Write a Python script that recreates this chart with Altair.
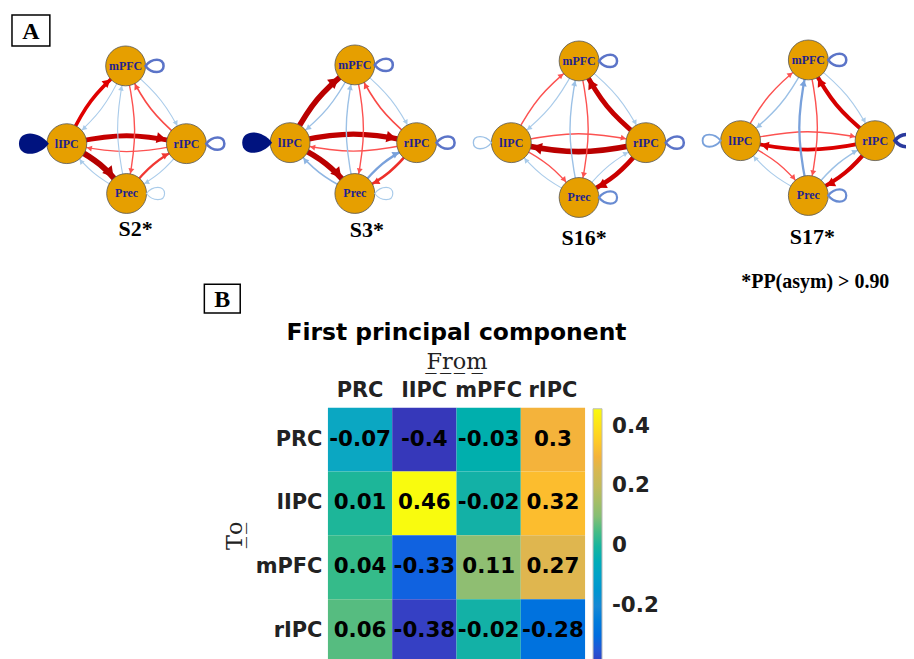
import math
import altair as alt
import pandas as pd

# ---------------- Panel A: effective connectivity graphs ----------------
subjects = ["S2*", "S3*", "S16*", "S17*"]
nodes = ["mPFC", "lIPC", "rIPC", "Prec"]

# directed connections (from -> to); value > 0 excitatory (red), < 0 inhibitory (blue)
edge_from = ["lIPC", "mPFC", "lIPC", "rIPC", "lIPC", "Prec", "mPFC", "Prec", "rIPC", "mPFC", "rIPC", "Prec"]
edge_to = ["mPFC", "lIPC", "rIPC", "lIPC", "Prec", "lIPC", "Prec", "mPFC", "mPFC", "rIPC", "Prec", "rIPC"]
s2_edges = [0.5, -0.1, 0.75, 0.15, 0.9, -0.1, 0.15, -0.1, 0.2, -0.1, -0.1, 0.3]
s3_edges = [0.85, -0.15, 0.8, 0.15, 0.85, -0.2, 0.15, -0.15, 0.2, -0.1, 0.35, -0.3]
s16_edges = [0.15, -0.1, 0.15, 0.85, 0.15, -0.1, 0.15, -0.15, 0.75, -0.1, 0.7, -0.1]
s17_edges = [0.15, -0.15, 0.15, 0.55, 0.15, -0.1, 0.15, -0.3, 0.6, -0.1, 0.6, -0.15]
edge_values = [s2_edges, s3_edges, s16_edges, s17_edges]

# self connections (mPFC, lIPC, rIPC, Prec)
s2_self = [-0.5, -1.0, -0.5, -0.1]
s3_self = [-0.5, -1.0, -0.5, -0.1]
s16_self = [-0.5, -0.15, -0.5, -0.4]
s17_self = [-0.5, -0.3, -0.8, -0.4]
self_values = [s2_self, s3_self, s16_self, s17_self]

note_text = ["*PP(asym) > 0.90"]
panel_letters = ["A", "B"]

# ---------------- layout (page pixel coordinates) ----------------
node_x = [[123, 64, 184, 124], [353, 288, 415, 353], [578, 510, 645, 578], [808, 740, 875, 808]]
node_y = [[65, 143, 143, 193], [64, 142, 142, 193], [60, 142, 142, 197], [59, 140, 140, 195]]
loop_angle = [0, 180, 0, 0]
subject_label_x = [133, 365, 583, 812]
subject_label_y = [229, 230, 238, 237]
note_x = [815]
note_y = [282]
box_x1 = [9, 202]
box_x2 = [47, 238]
box_y1 = [14, 284]
box_y2 = [45, 313]
NODE_R = 20
CURVE = 0.1

# ---------------- Panel B: heat map ----------------
cols_from = ["PRC", "lIPC", "mPFC", "rIPC"]
rows_to = ["PRC", "lIPC", "mPFC", "rIPC"]
pc1_PRC = [-0.07, -0.4, -0.03, 0.3]
pc1_lIPC = [0.01, 0.46, -0.02, 0.32]
pc1_mPFC = [0.04, -0.33, 0.11, 0.27]
pc1_rIPC = [0.06, -0.38, -0.02, -0.28]
pc1_rows = [pc1_PRC, pc1_lIPC, pc1_mPFC, pc1_rIPC]
colorbar_ticks = [-0.2, 0, 0.2, 0.4]

# ---------------- build tables ----------------
node_rows, line_rows, arrow_rows, loop_rows = [], [], [], []
for si, s in enumerate(subjects):
    pos = {}
    for ni, n in enumerate(nodes):
        pos[n] = (node_x[si][ni], node_y[si][ni])
        node_rows.append(dict(subject=s, node=n, x=node_x[si][ni], y=node_y[si][ni]))
        v = self_values[si][ni]
        big = abs(v) >= 0.9
        off = NODE_R + (13 if big else 9)
        ang = loop_angle[ni]
        loop_rows.append(dict(
            x=node_x[si][ni] + off * math.cos(math.radians(ang)),
            y=node_y[si][ni] + off * math.sin(math.radians(ang)),
            v=v, ang=ang, big=big, w=0.8 + 3.5 * abs(v)))
    for ei, (f, t) in enumerate(zip(edge_from, edge_to)):
        v = edge_values[si][ei]
        x0, y0 = pos[f]
        x2, y2 = pos[t]
        dx, dy = x2 - x0, y2 - y0
        d = math.hypot(dx, dy)
        nx, ny = dy / d, -dx / d
        cx = (x0 + x2) / 2 + nx * CURVE * d
        cy = (y0 + y2) / 2 + ny * CURVE * d
        w = 0.5 + 6.0 * abs(v)
        eid = f"{s}|{f}|{t}"
        for o, (px, py) in enumerate([(x0, y0), (cx, cy), (x2, y2)]):
            line_rows.append(dict(edge=eid, o=o, x=px, y=py, v=v, w=w))
        ux, uy = x2 - cx, y2 - cy
        L = math.hypot(ux, uy)
        ux, uy = ux / L, uy / L
        sz = 4 + 1.4 * w
        arrow_rows.append(dict(
            x=x2 - ux * (NODE_R + sz / 2), y=y2 - uy * (NODE_R + sz / 2),
            v=v, size=sz * sz, angle=math.degrees(math.atan2(ux, -uy)) % 360))

nodes_df = pd.DataFrame(node_rows)
lines_df = pd.DataFrame(line_rows)
arrows_df = pd.DataFrame(arrow_rows)
loops_df = pd.DataFrame(loop_rows)
subj_df = pd.DataFrame(dict(label=subjects, x=subject_label_x, y=subject_label_y))
note_df = pd.DataFrame(dict(label=note_text, x=note_x, y=note_y))
box_df = pd.DataFrame(dict(label=panel_letters, x1=box_x1, x2=box_x2, y1=box_y1, y2=box_y2))
box_df["xc"] = (box_df.x1 + box_df.x2) / 2
box_df["yc"] = (box_df.y1 + box_df.y2) / 2 + 1

XS = alt.Scale(domain=[8, 906], nice=False, zero=False)
YS = alt.Scale(domain=[8, 318], nice=False, zero=False, reverse=True)
edge_color = alt.Scale(domain=[-1, -0.5, -0.1, 0.1, 0.5, 0.9],
                       range=["#00137f", "#5b74c8", "#a9cbea", "#ff5a5a", "#e00000", "#b50000"])

def X(f="x"):
    return alt.X(f"{f}:Q", scale=XS, axis=None)

def Y(f="y"):
    return alt.Y(f"{f}:Q", scale=YS, axis=None)

lines = alt.Chart(lines_df).mark_line(interpolate="basis", strokeCap="round").encode(
    x=X(), y=Y(), detail="edge:N", order="o:Q",
    color=alt.Color("v:Q", scale=edge_color, legend=None),
    strokeWidth=alt.StrokeWidth("w:Q", scale=None))

arrows = alt.Chart(arrows_df).mark_point(shape="triangle-up", filled=True, opacity=1).encode(
    x=X(), y=Y(),
    color=alt.Color("v:Q", scale=edge_color, legend=None),
    size=alt.Size("size:Q", scale=None),
    angle=alt.Angle("angle:Q", scale=None))

LOOP = "M -1 0 C -0.3 -0.9 1 -0.9 1 0 C 1 0.9 -0.3 0.9 -1 0 Z"
loops_thin = alt.Chart(loops_df).transform_filter("!datum.big").mark_point(
    shape=LOOP, filled=False, size=330, opacity=1, clip=True).encode(
    x=X(), y=Y(),
    color=alt.Color("v:Q", scale=edge_color, legend=None),
    strokeWidth=alt.StrokeWidth("w:Q", scale=None),
    angle=alt.Angle("ang:Q", scale=None))
loops_big = alt.Chart(loops_df).transform_filter("datum.big").mark_point(
    shape=LOOP, filled=True, size=900, opacity=1, clip=True).encode(
    x=X(), y=Y(),
    color=alt.Color("v:Q", scale=edge_color, legend=None),
    angle=alt.Angle("ang:Q", scale=None))

node_marks = alt.Chart(nodes_df).mark_circle(
    size=1600, color="#E69F00", opacity=1, stroke="#555555", strokeWidth=0.8).encode(x=X(), y=Y())
node_text = alt.Chart(nodes_df).mark_text(
    font="Liberation Serif", fontWeight="bold", fontSize=12, color="#1f1f8f").encode(
    x=X(), y=Y(), text="node:N")

subj_text = alt.Chart(subj_df).mark_text(
    font="Liberation Serif", fontWeight="bold", fontSize=22, color="black").encode(
    x=X(), y=Y(), text="label:N")
note = alt.Chart(note_df).mark_text(
    font="Liberation Serif", fontWeight="bold", fontSize=20, color="black").encode(
    x=X(), y=Y(), text="label:N")
boxes = alt.Chart(box_df).mark_rect(fill="white", stroke="black", strokeWidth=1.5).encode(
    x=X("x1"), x2="x2:Q", y=Y("y1"), y2="y2:Q")
box_text = alt.Chart(box_df).mark_text(
    font="Liberation Serif", fontWeight="bold", fontSize=24, color="black").encode(
    x=X("xc"), y=Y("yc"), text="label:N")

top = alt.layer(lines, node_marks, node_text, arrows, loops_thin, loops_big,
                subj_text, note, boxes, box_text).properties(width=898, height=310)

# ---------------- heat map ----------------
hm_rows = []
for r, vals in zip(rows_to, pc1_rows):
    for c, v in zip(cols_from, vals):
        hm_rows.append(dict(to=r, frm=c, value=v, label=str(v)))
hm_df = pd.DataFrame(hm_rows)

parula = alt.Scale(
    domain=[-0.42, -0.38, -0.33, -0.2, -0.07, -0.02, 0.04, 0.11, 0.2, 0.27, 0.3, 0.32, 0.46],
    range=["#3730b0", "#3540c4", "#1062e0", "#1688d5", "#0ba7c2", "#13b1a6", "#35bb8a",
           "#8fbe72", "#c2bb5c", "#dfb64f", "#f4b33b", "#fcbd2e", "#f9fb0e"])

xenc = alt.X("frm:N", sort=cols_from, axis=alt.Axis(
    orient="top", title="F\u0332r\u0332o\u0332m\u0332", titleFont="DejaVu Serif", titleFontSize=22.5,
    titleFontWeight="normal", titleColor="#222222", titlePadding=6,
    labelFont="DejaVu Sans", labelFontSize=21, labelFontWeight="bold", labelColor="#222222",
    labelAngle=0, labelPadding=7, ticks=False, domain=False))
yenc = alt.Y("to:N", sort=rows_to, axis=alt.Axis(
    title="T\u0332o\u0332", titleFont="DejaVu Serif", titleFontSize=22.5, titleFontWeight="normal",
    titleColor="#222222", titlePadding=9,
    labelFont="DejaVu Sans", labelFontSize=21, labelFontWeight="bold", labelColor="#222222",
    labelPadding=6, ticks=False, domain=False))

cells = alt.Chart(hm_df).mark_rect().encode(
    x=xenc, y=yenc,
    color=alt.Color("value:Q", scale=parula, legend=alt.Legend(
        title=None, orient="none", legendX=584, legendY=1, padding=0, gradientLength=264,
        gradientThickness=9, gradientStrokeColor="#bbbbbb", gradientStrokeWidth=1,
        values=colorbar_ticks, labelExpr="toString(datum.value)",
        labelFont="DejaVu Sans", labelFontSize=21.5, labelFontWeight="bold",
        labelColor="#222222", labelOffset=10, labelOverlap=False)))
cell_text = alt.Chart(hm_df).mark_text(
    font="DejaVu Sans", fontSize=21.5, fontWeight="bold", color="black").encode(
    x=alt.X("frm:N", sort=cols_from), y=alt.Y("to:N", sort=rows_to), text="label:N")

heat = alt.layer(cells, cell_text).properties(
    width=258, height=256,
    title=alt.TitleParams("First principal component", font="DejaVu Sans", fontSize=23.5,
                          fontWeight="bold", color="black", anchor="middle", frame="group",
                          offset=7))

spacer = alt.Chart(pd.DataFrame({"a": [0]})).mark_point(opacity=0).encode(
    x=alt.value(0), y=alt.value(0)).properties(width=212, height=10)

bottom = alt.hconcat(spacer, heat, spacing=0)

chart = alt.vconcat(top, bottom, spacing=2).resolve_scale(
    color="independent", strokeWidth="independent", size="independent", angle="independent"
).properties(padding=0).configure_view(strokeWidth=0)

chart.save("out.html", embed_options={"renderer": "svg", "actions": False})
